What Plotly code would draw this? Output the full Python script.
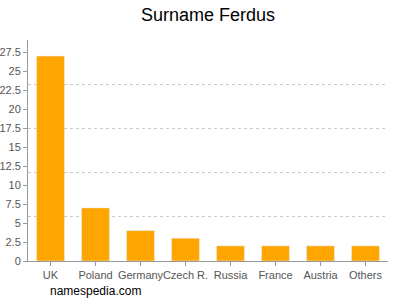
import plotly.graph_objects as go

categories = ["UK", "Poland", "Germany", "Czech R.", "Russia", "France", "Austria", "Others"]
values = [27, 7, 4, 3, 2, 2, 2, 2]
y_ticks = [0, 2.5, 5, 7.5, 10, 12.5, 15, 17.5, 20, 22.5, 25, 27.5]
y_max = 29.12

fig = go.Figure()
fig.add_trace(go.Bar(x=categories, y=values, marker_color="#FFA500", width=0.62,
                     hoverinfo="x+y"))
fig.add_trace(go.Scatter(x=categories, y=[None]*len(categories), yaxis="y2",
                         showlegend=False, hoverinfo="skip"))

fig.update_layout(
    width=400, height=300,
    margin=dict(l=28, r=12, t=40, b=39, autoexpand=False),
    paper_bgcolor="white", plot_bgcolor="white",
    showlegend=False,
    font=dict(family="Liberation Sans, Arial, sans-serif", color="#555", size=11),
    title=dict(text="Surname Ferdus", x=0.52, xanchor="center", y=0.95, yanchor="middle",
               font=dict(size=18, color="#000")),
    xaxis=dict(showline=True, linecolor="#999", ticks="outside", ticklen=4, tickcolor="#999",
               showgrid=False, tickangle=0, automargin=False,
               tickfont=dict(size=11, color="#555")),
    yaxis=dict(range=[0, y_max], tickvals=y_ticks, ticktext=[f"{v:g}" for v in y_ticks],
               showline=True, linecolor="#999", ticks="outside", ticklen=4, tickcolor="#999",
               showgrid=False, zeroline=False, automargin=False,
               tickfont=dict(size=11, color="#555")),
    yaxis2=dict(range=[0, y_max], overlaying="y", side="right", dtick=y_max/5,
                showticklabels=False, showgrid=True, gridcolor="#c8c8c8", griddash="3px,3px",
                zeroline=False, showline=False, automargin=False),
    annotations=[dict(text="namespedia.com", x=(48-28)/360, y=(261-291)/221,
                      xref="paper", yref="paper", xanchor="left", yanchor="middle",
                      showarrow=False, font=dict(size=12, color="#000"))],
)
fig.write_html("out.html")
